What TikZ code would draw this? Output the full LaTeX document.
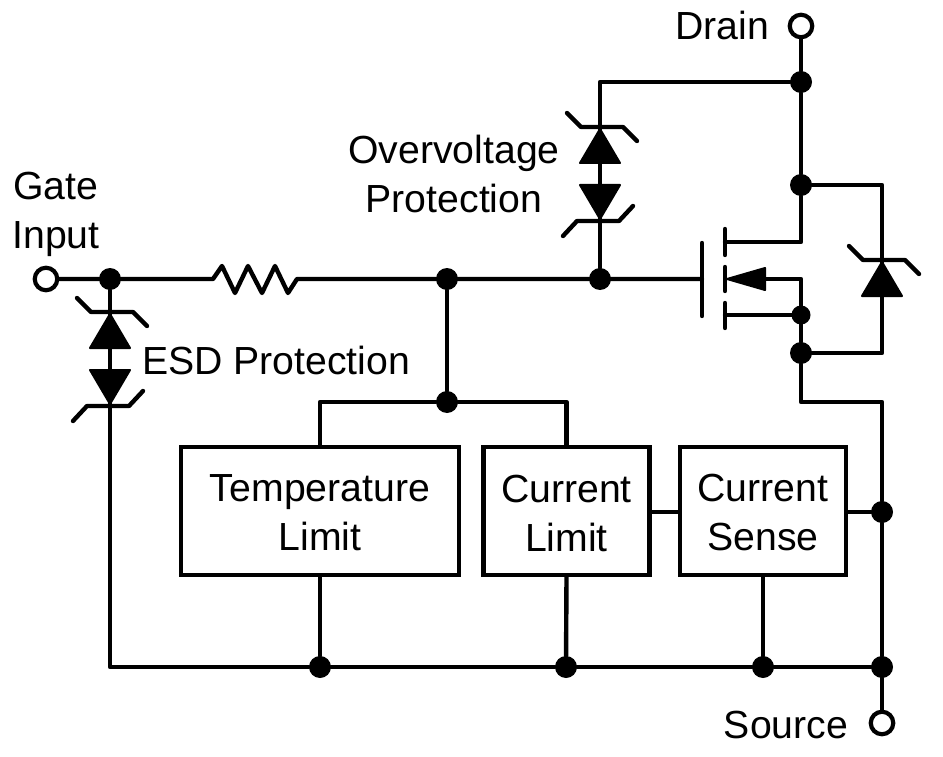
\documentclass[tikz,border=0pt]{standalone}
\usepackage{fontspec}
\setmainfont{Liberation Sans}
\newcommand{\blockline}[1]{\raisebox{-2pt}[\height][\depth]{#1}}
\tikzset{
  wire/.style={line width=4.4pt,line join=round,line cap=round},
  dot/.style={circle,fill=black,draw=none,inner sep=0pt,minimum size=22pt},
  smalldot/.style={circle,fill=black,draw=none,inner sep=0pt,minimum size=19pt},
  term/.style={circle,draw=black,fill=white,line width=4.2pt,inner sep=0pt,minimum size=22.5pt},
  blockbox/.style={draw=black,line width=4.2pt,inner sep=0pt,minimum height=128pt,align=center,font=\fontsize{39.2}{49}\selectfont},
  lab/.style={inner sep=0pt,font=\fontsize{39.2}{49}\selectfont,align=center},
  pics/zenerup/.style={code={
    \fill[line width=2pt,draw=black,line join=round] (0,2) -- (-20,36) -- (20,36) -- cycle;
    \draw[wire] (-33,-14) -- (-19,0) -- (23,0) -- (37,14);
  }},
  pics/zenerdown/.style={code={
    \fill[line width=2pt,draw=black,line join=round] (0,-2) -- (-20,-36) -- (20,-36) -- cycle;
    \draw[wire] (-37,15) -- (-23,0) -- (19,0) -- (33,-15);
  }},
}
\begin{document}
\begin{tikzpicture}[x=1pt,y=-1pt]
\useasboundingbox (0,0) rectangle (943,757);

% terminals and junctions
\node[term] (gatein) at (46,279) {};
\node[term] (drain) at (801,26) {};
\node[term] (source) at (882,723) {};
\node[dot] (jg) at (110,279) {};
\node[dot] (jo) at (600,279) {};
\node[dot] (jb) at (447,279) {};
\node[dot] (jc) at (447,402) {};
\node[dot] (jd1) at (801,82) {};
\node[dot] (jd2) at (801,185) {};
\node[smalldot] (js1) at (801,315) {};
\node[dot] (js2) at (801,353) {};
\node[dot] (js3) at (882,512) {};
\node[dot] (r1) at (320,667) {};
\node[dot] (r2) at (566,667) {};
\node[dot] (r3) at (763,667) {};
\node[dot] (r4) at (882,667) {};

% blocks
\node[blockbox,minimum width=278pt] (temp) at (320,511) {\blockline{Temperature}\\\blockline{Limit}};
\node[blockbox,minimum width=166pt] (curl) at (566.5,511) {\blockline{Current}\\\blockline{Limit}};
\node[blockbox,minimum width=166pt] (curs) at (763,511) {\blockline{Current}\\\blockline{Sense}};

% labels
\node[lab,anchor=base] (ldrain) at (722,40) {Drain};
\node[lab,anchor=base] (lsource) at (786,738) {Source};
\node[lab,anchor=base] (lgate) at (55.5,200) {Gate};
\node[lab,anchor=base] (linput) at (56,248) {Input};
\node[lab,anchor=base] (lover) at (454,164) {Overvoltage};
\node[lab,anchor=base] (lprot) at (454,212) {Protection};
\node[lab,anchor=base] (lesd) at (276,374) {ESD Protection};

% MOSFET points
\coordinate (gp) at (702,279);
\coordinate (dc) at (725,242);
\coordinate (sc) at (725,315);
\coordinate (tip) at (727,279);
\coordinate (base) at (765,279);
\coordinate (dk) at (801,242);
\coordinate (sk) at (801,279);

% resistor ends
\coordinate (ra) at (213,279);
\coordinate (rb) at (297,279);

% Corners
\coordinate (ot) at (600,82);
\coordinate (rt) at (882,185);
\coordinate (rb2) at (882,353);
\coordinate (sj) at (801,402);
\coordinate (sk2) at (882,402);
\coordinate (rl) at (110,667);

% wires
\draw[wire] (gatein) -- (jg) -- (ra)
  -- (222,266) -- (235,293) -- (248,266) -- (262,293) -- (275,266) -- (288,293) -- (rb)
  -- (jb) -- (jo) -- (gp);
\draw[wire] (drain) -- (jd1) -- (jd2) -- (dk) -- (dc);
\draw[wire] (jd1) -- (ot) -- (jo);
\draw[wire] (jd2) -- (rt) -- (rb2) -- (js2);
\draw[wire] (base) -- (sk) -- (js1) -- (js2) -- (sj) -- (sk2) -- (js3) -- (r4) -- (source);
\draw[wire] (sc) -- (js1);
\draw[wire] (jb) -- (jc);
\draw[wire] (jc) -| (temp.north);
\draw[wire] (jc) -| (curl.north);
\draw[wire] (curl.east |- js3) -- (curs.west |- js3);
\draw[wire] (curs.east |- js3) -- (js3);
\draw[wire] (jg) -- (rl) -- (r1) -- (r2) -- (r3) -- (r4);
\draw[wire] (temp.south) -- (r1);
\draw[wire] (curl.south) -- (r2);
\draw[wire] (curs.south) -- (r3);

% MOSFET plates
\draw[wire] (702,243) -- (702,316);
\draw[wire] (725,229) -- (725,255);
\draw[wire] (725,267) -- (725,291);
\draw[wire] (725,303) -- (725,328);
\fill[draw=black,line width=2pt,line join=round] (tip) -- (765,268) -- (765,290) -- cycle;

% zener diodes
\pic at (600,127) {zenerup};
\pic at (600,221) {zenerdown};
\pic at (882,260) {zenerup};
\pic at (110,312) {zenerup};
\pic at (110,406) {zenerdown};

\end{tikzpicture}
\end{document}
